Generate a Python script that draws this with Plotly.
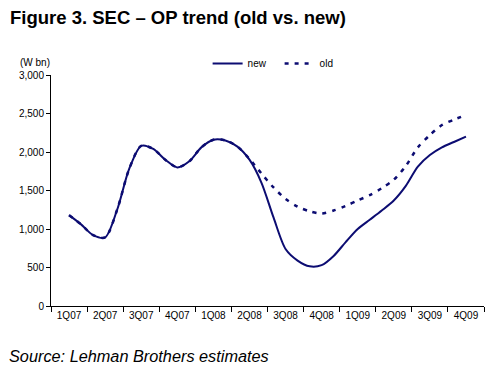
import plotly.graph_objects as go

# Monthly readings (index 0 = 1Q07 mid, 33 = 4Q09 mid), W bn
months = list(range(34))
new_op = [1180, 1060, 920, 890, 1250, 1780, 2080, 2040, 1900, 1800, 1880, 2060,
          2160, 2150, 2070, 1900, 1600, 1150, 740, 590, 515, 530, 650, 830,
          1000, 1120, 1240, 1370, 1560, 1810, 1960, 2060, 2130, 2200]
old_op = [1180, 1060, 920, 890, 1250, 1780, 2080, 2040, 1900, 1800, 1880, 2060,
          2160, 2150, 2070, 1910, 1720, 1540, 1390, 1290, 1230, 1200, 1240, 1300,
          1370, 1440, 1530, 1640, 1820, 2060, 2220, 2350, 2420, 2480]
quarter_labels = ["1Q07", "2Q07", "3Q07", "4Q07", "1Q08", "2Q08",
                  "3Q08", "4Q08", "1Q09", "2Q09", "3Q09", "4Q09"]
quarter_pos = [3 * i for i in range(len(quarter_labels))]
y_ticks = [0, 500, 1000, 1500, 2000, 2500, 3000]

navy = "#0c0c72"
font = "Liberation Sans, Arial, sans-serif"

fig = go.Figure()
fig.add_trace(go.Scatter(x=months, y=new_op, name="new", mode="lines",
                         line=dict(color=navy, width=2, shape="spline", smoothing=0.8)))
fig.add_trace(go.Scatter(x=months, y=old_op, name="old", mode="lines",
                         line=dict(color=navy, width=2.5, shape="spline", smoothing=0.8,
                                   dash="4px,6px")))

fig.update_layout(
    width=495, height=379, autosize=False,
    margin=dict(l=51, r=11, t=75, b=73),
    paper_bgcolor="white", plot_bgcolor="white",
    font=dict(family=font, size=10, color="black"),
    showlegend=True,
    legend=dict(orientation="h", x=0.3617, y=1.05, xanchor="left", yanchor="middle",
                font=dict(size=10), bgcolor="rgba(0,0,0,0)", itemwidth=30,
                entrywidth=27, entrywidthmode="pixels", tracegroupgap=0),
    xaxis=dict(range=[-1.5, 34.5], tickmode="array", tickvals=quarter_pos,
               ticktext=quarter_labels, ticks="", showgrid=False, zeroline=False,
               showline=True, linecolor="black", linewidth=1,
               tickfont=dict(size=10),
               minor=dict(tickmode="linear", tick0=-1.5, dtick=3, ticks="outside",
                          ticklen=5, tickcolor="black", showgrid=False)),
    yaxis=dict(range=[0, 3000], tickmode="array", tickvals=y_ticks,
               tickformat=",", ticks="outside", ticklen=4, tickcolor="black",
               showgrid=False, zeroline=False, showline=True, linecolor="black",
               linewidth=1, tickfont=dict(size=10)),
    annotations=[
        dict(text="<b>Figure 3. SEC \u2013 OP trend (old vs. new)</b>", xref="paper",
             yref="paper", x=-43/433, y=1 + (75-17)/231.3, xanchor="left",
             yanchor="middle", showarrow=False, font=dict(size=18.5, family=font)),
        dict(text="(W bn)", xref="paper", yref="paper", x=-33/433,
             y=1 + (75-62)/231.3, xanchor="left", yanchor="middle",
             showarrow=False, font=dict(size=10, family=font)),
        dict(text="<i>Source: Lehman Brothers estimates</i>", xref="paper",
             yref="paper", x=-44/433, y=-(356-306)/231.3, xanchor="left",
             yanchor="middle", showarrow=False, font=dict(size=16.3, family=font)),
    ],
)

fig.write_html("out.html", config={"displayModeBar": False},
               post_script="document.body.style.margin='0';")
